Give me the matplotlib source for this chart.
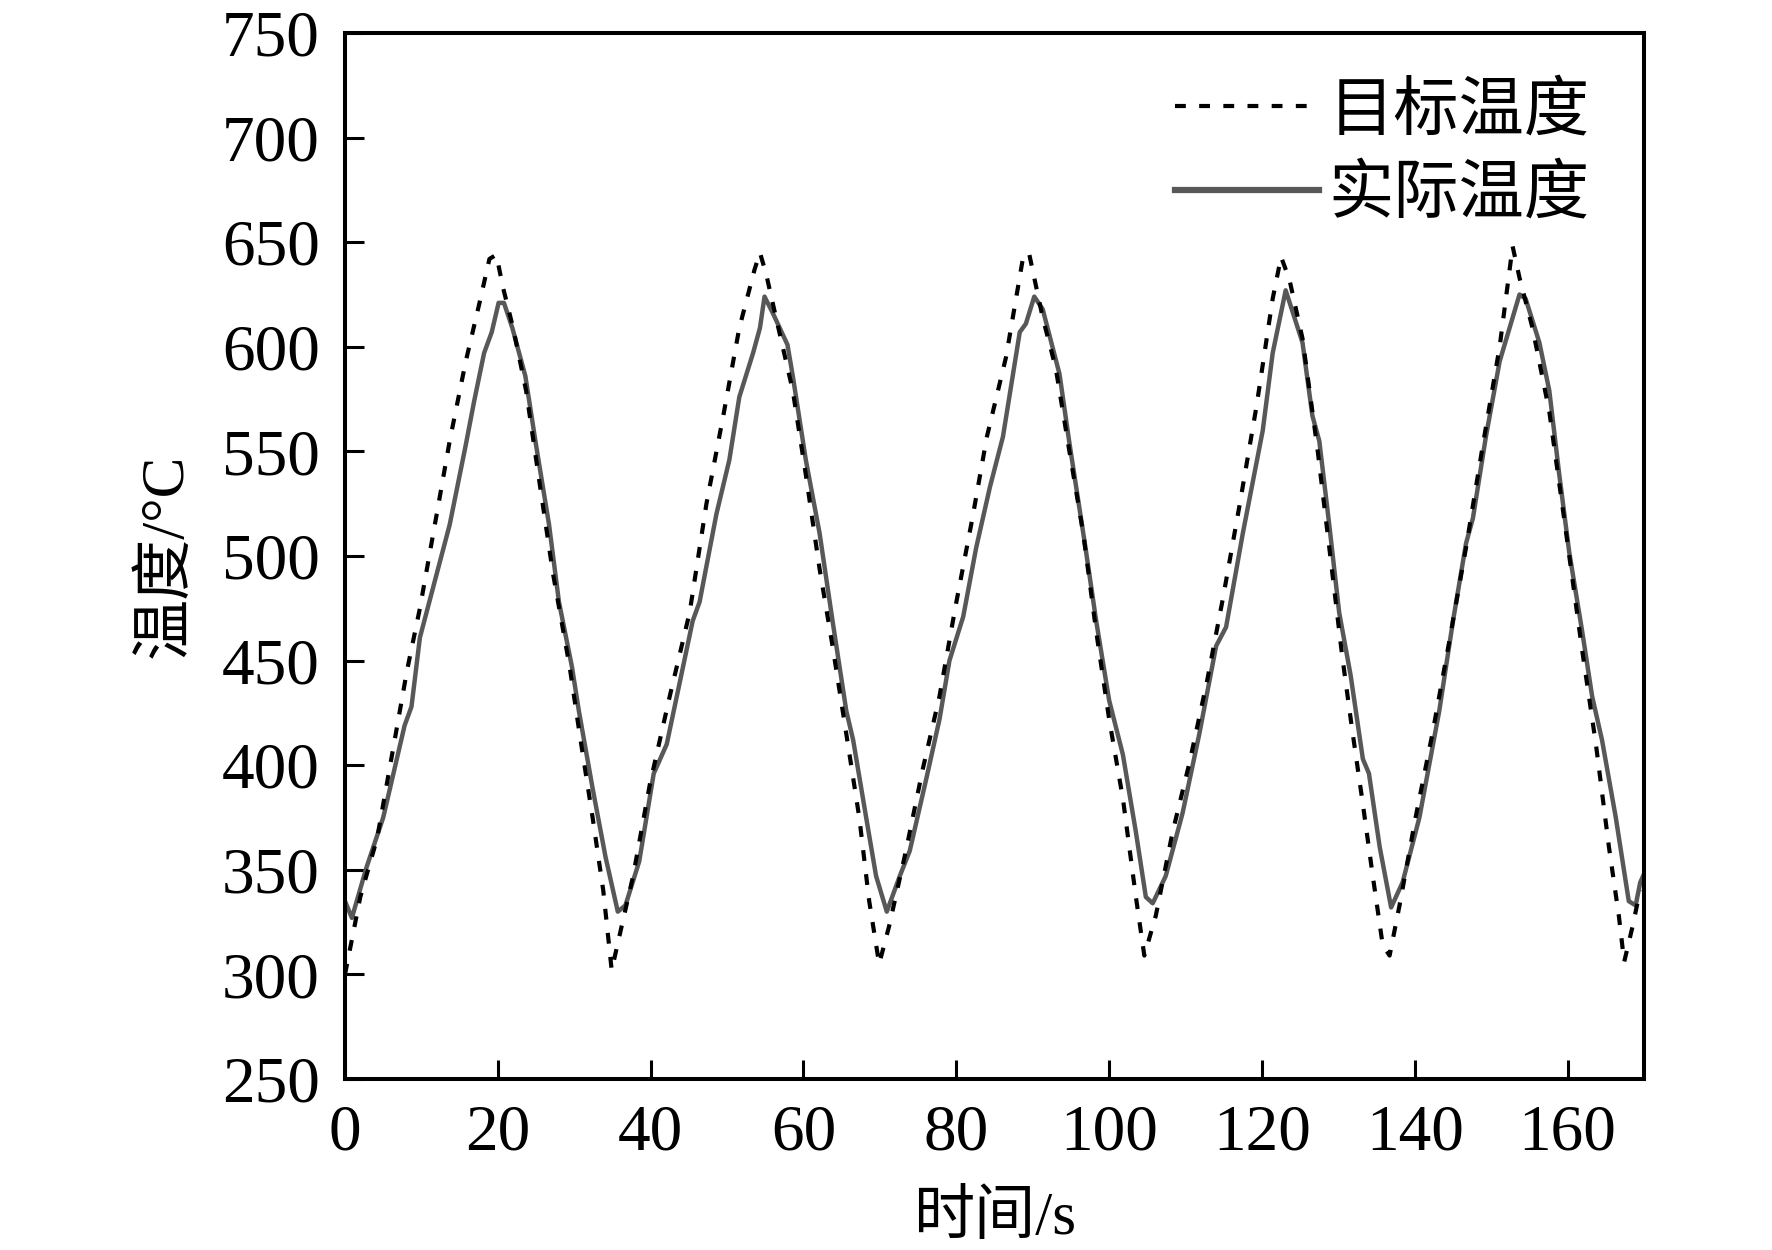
import matplotlib
matplotlib.use("Agg")
import matplotlib.pyplot as plt


# =====================================
# DATA
# =====================================
target_t = [
    0, 2.0, 4.2, 6.4, 8.1, 9.8, 12.0, 13.7, 15.8, 17.6, 18.9, 19.8, 20.7,
    22.0, 23.7, 25.5, 27.2, 29.4, 30.7, 32.4, 33.8, 34.9, 36.2, 37.7, 39.9,
    42.5, 45.1, 47.3, 49.5, 51.6, 53.6, 54.3, 55.1, 56.4, 58.6, 60.3, 62.1,
    63.8, 65.6, 67.3, 68.6, 69.9, 71.2, 73.4, 75.6, 77.8, 79.9, 82.1, 84.0,
    86.5, 88.7, 89.5, 91.3, 93.0, 94.8, 96.6, 98.3, 100.0, 101.8, 103.5,
    104.6, 106.1, 108.3, 110.5, 112.8, 114.9, 117.1, 119.3, 121.4, 122.5,
    123.6, 125.3, 127.3, 129.2, 130.5, 131.8, 133.1, 134.5, 135.8, 136.7,
    138.0, 140.1, 142.3, 144.5, 146.7, 148.9, 151.1, 152.8, 153.7, 155.4,
    157.6, 159.8, 161.9, 163.7, 165.4, 166.7, 167.4, 168.5, 169.3, 170
]
target_temp = [
    300, 337, 365, 410, 445, 475, 520, 555, 593, 621, 642, 644, 628,
    609, 579, 534, 492, 447, 415, 375, 340, 302, 323, 347, 391,
    433, 473, 525, 567, 609, 637, 645, 635, 614, 579, 539, 494,
    457, 415, 375, 335, 305, 323, 359, 398, 433, 476, 518, 557,
    595, 642, 645, 614, 590, 550, 511, 464, 422, 384, 337,
    309, 328, 368, 401, 440, 480, 525, 572, 623, 643,
    632, 604, 550, 492, 452, 417, 384, 347, 314, 309,
    333, 375, 415, 459, 504, 553, 600, 648, 633, 609,
    569, 511, 455, 410, 361, 328, 306, 323, 337, 340
]

actual_t = [
    0, 0.9, 2.8, 5.0, 7.8, 8.7, 9.8, 12.4, 13.7, 15.8, 16.9, 18.2, 19.2,
    20.1, 20.8, 21.9, 23.6, 25.0, 26.7, 28.0, 29.7, 30.6, 32.4, 34.1, 35.7,
    36.7, 38.5, 40.4, 42.1, 45.5, 46.4, 48.6, 50.3, 51.6, 53.4, 54.3, 54.9,
    56.0, 57.9, 58.6, 60.3, 62.1, 63.8, 65.6, 66.5, 68.2, 69.5, 70.9, 72.6,
    73.9, 76.1, 77.8, 79.1, 80.9, 82.6, 84.4, 86.1, 88.3, 89.1, 90.2, 91.3,
    93.5, 94.8, 96.9, 98.3, 100.0, 101.8, 103.5, 104.8, 105.7, 107.4, 109.6,
    111.8, 114.0, 115.3, 117.5, 120.1, 121.4, 123.1, 125.3, 126.6, 127.5,
    128.8, 130.1, 131.6, 133.2, 134.0, 135.4, 136.9, 138.4, 140.6, 143.2,
    145.0, 146.7, 147.6, 149.3, 151.1, 152.4, 153.7, 154.5, 156.3, 157.6,
    158.9, 160.2, 161.9, 163.2, 164.5, 166.3, 168.0, 168.9, 169.5, 170
]
actual_temp = [
    335, 327, 351, 375, 419, 428, 461, 497, 515, 553, 574, 597, 607,
    621, 621, 609, 586, 553, 515, 478, 447, 426, 389, 356, 330,
    333, 354, 396, 410, 469, 478, 520, 546, 576, 597, 609, 624,
    616, 601, 586, 546, 511, 469, 426, 412, 375, 347, 330, 347,
    359, 394, 422, 450, 471, 504, 533, 557, 607, 611, 624, 618,
    587, 554, 504, 469, 431, 405, 368, 337, 334, 347, 377,
    415, 457, 466, 511, 560, 597, 627, 602, 567, 555,
    515, 473, 443, 403, 396, 361, 332, 344, 375, 426,
    469, 506, 518, 557, 593, 609, 625, 623, 602, 579,
    539, 502, 464, 433, 412, 375, 335, 333, 344, 348
]

x_ticks = [0, 20, 40, 60, 80, 100, 120, 140, 160]
y_ticks = [250, 300, 350, 400, 450, 500, 550, 600, 650, 700, 750]

plt.rcParams["font.family"] = ["Liberation Serif", "Noto Sans CJK SC"]
plt.rcParams["axes.unicode_minus"] = False


# =====================================
# PLOT
# =====================================
fig = plt.figure(figsize=(17.72, 12.5), dpi=100)

ax = fig.add_axes([0.1947, 0.1368, 0.7331, 0.8368])

line_actual, = ax.plot(
    actual_t,
    actual_temp,
    color="#585858",
    linewidth=3.2,
    label="实际温度"
)

line_target, = ax.plot(
    target_t,
    target_temp,
    color="black",
    linewidth=3.0,
    linestyle=(0, (2.6, 3.2)),
    label="目标温度"
)

ax.set_xlim(0, 170)
ax.set_ylim(250, 750)
ax.set_xticks(x_ticks)
ax.set_yticks(y_ticks)

ax.tick_params(
    direction="in",
    length=14,
    width=2.2,
    labelsize=47,
    pad=18
)

for spine in ax.spines.values():
    spine.set_linewidth(2.9)

ax.set_xlabel("时间/s", fontsize=44, labelpad=20)
ax.set_ylabel("温度/°C", fontsize=44, labelpad=20)

leg = ax.legend(
    handles=[line_target, line_actual],
    loc="upper right",
    bbox_to_anchor=(0.958, 0.953),
    frameon=False,
    fontsize=47,
    handlelength=2.2,
    handletextpad=0.15,
    labelspacing=0.35,
    borderpad=0,
    borderaxespad=0
)
leg.get_lines()[1].set_linewidth(4.5)

plt.savefig("out.png", dpi=100)
